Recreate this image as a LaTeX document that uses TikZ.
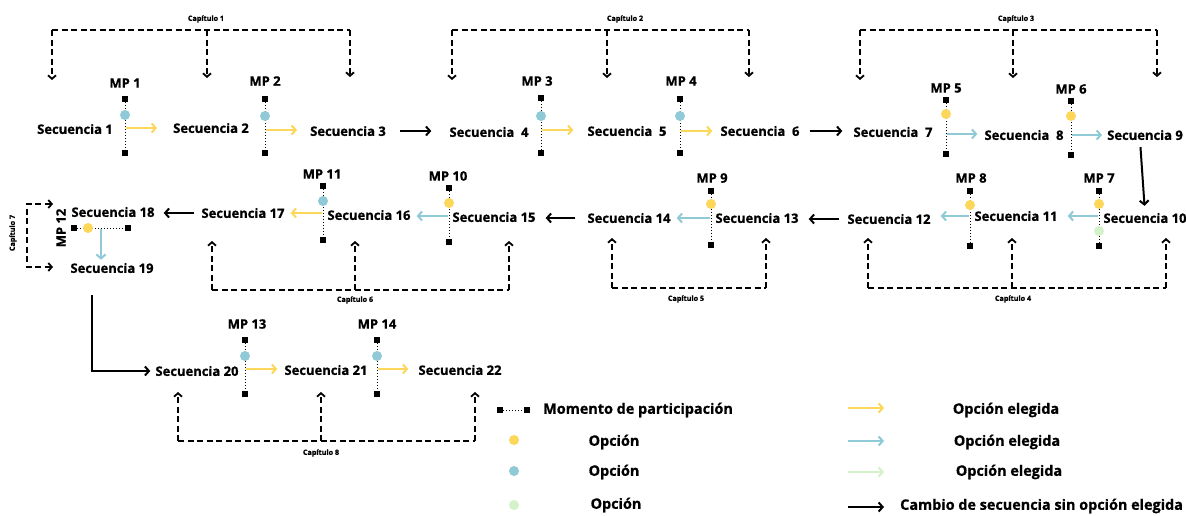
\documentclass[tikz,border=0pt]{standalone}
\usepackage{fontspec}
\setmainfont{Open Sans}[BoldFeatures={FakeBold=0.8}]
\usetikzlibrary{arrows.meta,calc}

\definecolor{ylw}{HTML}{FCD75A}
\definecolor{blu}{HTML}{8FCAD6}
\definecolor{grn}{HTML}{D3F2C9}

\tikzset{
  seq/.style={font=\bfseries\fontsize{13}{15}\selectfont, inner sep=0pt},
  mplabel/.style={font=\bfseries\fontsize{13}{15}\selectfont, inner sep=0pt},
  caplabel/.style={font=\bfseries\fontsize{7.2}{8}\selectfont, inner sep=0pt},
  legtext/.style={font=\bfseries\fontsize{14.4}{16}\selectfont, inner sep=0pt},
  mpline/.style={dotted, line width=1pt},
  endsq/.style={rectangle, fill=black, minimum size=5.5pt, inner sep=0pt},
  opt/.style={circle, inner sep=0pt, minimum size=10pt},
  chapline/.style={dash pattern=on 6pt off 3.5pt, line width=1.8pt},
  chaparrow/.style={chapline, -{Straight Barb[length=3.5pt,width=8pt]}},
  chapboth/.style={chapline, {Straight Barb[length=3.5pt,width=8pt]}-{Straight Barb[length=3.5pt,width=8pt]}},
  pick/.style={line width=2pt, -{Straight Barb[length=4pt,width=9pt]}},
  jump/.style={line width=2pt, black, -{Straight Barb[length=4pt,width=9pt]}},
}

% vertical participation moment: name, x, y top, y bottom
\newcommand\mpvert[4]{%
  \draw[mpline] (#2,#3) -- (#2,#4);
  \node[endsq] (#1t) at (#2,#3) {};
  \node[endsq] (#1b) at (#2,#4) {};
}

\begin{document}
\begin{tikzpicture}[x=1pt,y=-1pt]
\useasboundingbox[fill=white] (0,0) rectangle (1186,515);

% ---------------- sequences ----------------
\node[seq] (s1) at (75,129) {Secuencia 1};
\node[seq] (s2) at (211,128) {Secuencia 2};
\node[seq] (s3) at (348,131) {Secuencia 3};
\node[seq] (s4) at (489,132) {Secuencia\ \ 4};
\node[seq] (s5) at (627,131) {Secuencia\ \ 5};
\node[seq] (s6) at (760,131) {Secuencia\ \ 6};
\node[seq] (s7) at (893,132) {Secuencia\ \ 7};
\node[seq] (s8) at (1024,135) {Secuencia\ \ 8};
\node[seq] (s9) at (1145,135) {Secuencia 9};

\node[seq] (s10) at (1145,218) {Secuencia 10};
\node[seq] (s11) at (1016,216) {Secuencia 11};
\node[seq] (s12) at (889,219) {Secuencia 12};
\node[seq] (s13) at (757,218) {Secuencia 13};
\node[seq] (s14) at (629,218) {Secuencia 14};
\node[seq] (s15) at (494,217) {Secuencia 15};
\node[seq] (s16) at (369,215) {Secuencia 16};
\node[seq] (s17) at (243,213) {Secuencia 17};
\node[seq] (s18) at (113,212) {Secuencia 18};
\node[seq] (s19) at (112,268) {Secuencia 19};

\node[seq] (s20) at (197,371) {Secuencia 20};
\node[seq] (s21) at (326,370) {Secuencia 21};
\node[seq] (s22) at (460,370) {Secuencia 22};

% ---------------- participation moments ----------------
\node[mplabel] (l1) at (125,83) {MP 1};
\mpvert{m1}{125}{99}{153}
\node[opt, fill=blu] (m1c) at (125,115) {};
\coordinate (m1o) at (126,128);
\draw[pick, ylw, shorten >=16pt] (m1o) -- (m1o -| s2.west);

\node[mplabel] (l2) at (265,81) {MP 2};
\mpvert{m2}{265}{99}{153}
\node[opt, fill=blu] (m2c) at (265,116) {};
\coordinate (m2o) at (266,130);
\draw[pick, ylw, shorten >=13pt] (m2o) -- (m2o -| s3.west);

\node[mplabel] (l3) at (537,81) {MP 3};
\mpvert{m3}{541}{98}{153}
\node[opt, fill=blu] (m3c) at (541,116) {};
\coordinate (m3o) at (542,130);
\draw[pick, ylw, shorten >=14pt] (m3o) -- (m3o -| s5.west);

\node[mplabel] (l4) at (681,81) {MP 4};
\mpvert{m4}{680}{99}{153}
\node[opt, fill=blu] (m4c) at (680,116) {};
\coordinate (m4o) at (681,131);
\draw[pick, ylw, shorten >=8pt] (m4o) -- (m4o -| s6.west);

\node[mplabel] (l5) at (946,88) {MP 5};
\mpvert{m5}{946}{100}{154}
\node[opt, fill=ylw] (m5c) at (946,114) {};
\coordinate (m5o) at (947,134);
\draw[pick, blu, shorten >=7pt] (m5o) -- (m5o -| s8.west);

\node[mplabel] (l6) at (1071,89) {MP 6};
\mpvert{m6}{1071}{101}{155}
\node[opt, fill=ylw] (m6c) at (1071,116) {};
\coordinate (m6o) at (1072,135);
\draw[pick, blu, shorten >=5pt] (m6o) -- (m6o -| s9.west);

\node[mplabel] (l7) at (1099,178) {MP 7};
\mpvert{m7}{1099}{191}{246}
\node[opt, fill=ylw] (m7c) at (1099,204) {};
\node[opt, fill=grn] (m7g) at (1099,231) {};
\coordinate (m7o) at (1098,216);
\draw[pick, blu, shorten >=10pt] (m7o) -- (m7o -| s11.east);

\node[mplabel] (l8) at (971,178) {MP 8};
\mpvert{m8}{970}{191}{246}
\node[opt, fill=ylw] (m8c) at (970,205) {};
\coordinate (m8o) at (969,216);
\draw[pick, blu, shorten >=10pt] (m8o) -- (m8o -| s12.east);

\node[mplabel] (l9) at (712,178) {MP 9};
\mpvert{m9}{711}{191}{245}
\node[opt, fill=ylw] (m9c) at (711,204) {};
\coordinate (m9o) at (710,218);
\draw[pick, blu, shorten >=6pt] (m9o) -- (m9o -| s14.east);

\node[mplabel] (l10) at (448,176) {MP 10};
\mpvert{m10}{449}{188}{242}
\node[opt, fill=ylw] (m10c) at (449,203) {};
\coordinate (m10o) at (448,216);
\draw[pick, blu, shorten >=6pt] (m10o) -- (m10o -| s16.east);

\node[mplabel] (l11) at (322,174) {MP 11};
\mpvert{m11}{323}{186}{240}
\node[opt, fill=blu] (m11c) at (323,201) {};
\coordinate (m11o) at (322,213);
\draw[pick, ylw, shorten >=6pt] (m11o) -- (m11o -| s17.east);

% horizontal moment between sequences 18 and 19
\node[mplabel, rotate=90] (l12) at (61,228) {MP 12};
\draw[mpline] (74,228) -- (128,228);
\node[endsq] (m12l) at (74,228) {};
\node[endsq] (m12r) at (128,228) {};
\node[opt, fill=ylw] (m12c) at (88,228) {};
\coordinate (m12o) at (101,229);
\draw[pick, blu, shorten >=3pt] (m12o) -- (m12o |- s19.north);

\node[mplabel] (l13) at (247,324) {MP 13};
\mpvert{m13}{245}{340}{394}
\node[opt, fill=blu] (m13c) at (245,356) {};
\coordinate (m13o) at (246,369);
\draw[pick, ylw, shorten >=7pt] (m13o) -- (m13o -| s21.west);

\node[mplabel] (l14) at (377,324) {MP 14};
\mpvert{m14}{377}{340}{394}
\node[opt, fill=blu] (m14c) at (377,356) {};
\coordinate (m14o) at (378,369);
\draw[pick, ylw, shorten >=10pt] (m14o) -- (m14o -| s22.west);

% ---------------- sequence changes without a choice ----------------
\draw[jump, shorten <=14pt, shorten >=18pt] (s3.east) -- (s3.east -| s4.west);
\draw[jump, shorten <=10pt, shorten >=11pt] (s6.east) -- (s6.east -| s7.west);
\draw[jump, shorten <=7pt, shorten >=7pt] ([xshift=-5pt]s9.south) -- (s10.north);
\draw[jump, shorten <=8pt, shorten >=10pt] (s12.west) -- (s12.west -| s13.east);
\draw[jump, shorten <=12pt, shorten >=10pt] (s14.west) -- (s14.west -| s15.east);
\draw[jump, shorten <=7pt, shorten >=9pt] (s17.west) -- (s17.west -| s18.east);
\draw[jump, shorten <=22pt, shorten >=5pt] ([xshift=-20pt]s19.south) |- (s20.west);

% ---------------- chapters ----------------
% Capítulo 1
\node[caplabel] (cap1) at (206,19) {Capítulo 1};
\coordinate (c1a) at (52,30);  \coordinate (c1b) at (207,30);  \coordinate (c1c) at (350,30);
\coordinate (t1a) at (52,80);  \coordinate (t1b) at (207,78);  \coordinate (t1c) at (350,77);
\draw[chapline] (c1a) -- (c1c);
\draw[chaparrow] (c1a) -- (t1a);
\draw[chaparrow] (c1b) -- (t1b);
\draw[chaparrow] (c1c) -- (t1c);

% Capítulo 2
\node[caplabel] (cap2) at (625,19) {Capítulo 2};
\coordinate (c2a) at (452,30);  \coordinate (c2b) at (607,30);  \coordinate (c2c) at (749,30);
\coordinate (t2a) at (452,80);  \coordinate (t2b) at (607,78);  \coordinate (t2c) at (749,77);
\draw[chapline] (c2a) -- (c2c);
\draw[chaparrow] (c2a) -- (t2a);
\draw[chaparrow] (c2b) -- (t2b);
\draw[chaparrow] (c2c) -- (t2c);

% Capítulo 3
\node[caplabel] (cap3) at (1016,19) {Capítulo 3};
\coordinate (c3a) at (860,30);  \coordinate (c3b) at (1013,30);  \coordinate (c3c) at (1157,30);
\coordinate (t3a) at (860,80);  \coordinate (t3b) at (1013,78);  \coordinate (t3c) at (1157,77);
\draw[chapline] (c3a) -- (c3c);
\draw[chaparrow] (c3a) -- (t3a);
\draw[chaparrow] (c3b) -- (t3b);
\draw[chaparrow] (c3c) -- (t3c);

% Capítulo 4
\node[caplabel] (cap4) at (1013,299) {Capítulo 4};
\coordinate (c4a) at (868,288);  \coordinate (c4b) at (1012,288);  \coordinate (c4c) at (1166,288);
\coordinate (t4a) at (868,238);  \coordinate (t4b) at (1012,238);  \coordinate (t4c) at (1166,238);
\draw[chapline] (c4a) -- (c4c);
\draw[chaparrow] (c4a) -- (t4a);
\draw[chaparrow] (c4b) -- (t4b);
\draw[chaparrow] (c4c) -- (t4c);

% Capítulo 5
\node[caplabel] (cap5) at (686,299) {Capítulo 5};
\coordinate (c5a) at (612,288);  \coordinate (c5c) at (766,288);
\coordinate (t5a) at (612,238);  \coordinate (t5c) at (766,238);
\draw[chapline] (c5a) -- (c5c);
\draw[chaparrow] (c5a) -- (t5a);
\draw[chaparrow] (c5c) -- (t5c);

% Capítulo 6
\node[caplabel] (cap6) at (355,300) {Capítulo 6};
\coordinate (c6a) at (212,290);  \coordinate (c6b) at (355,290);  \coordinate (c6c) at (509,290);
\coordinate (t6a) at (212,241);  \coordinate (t6b) at (355,241);  \coordinate (t6c) at (509,241);
\draw[chapline] (c6a) -- (c6c);
\draw[chaparrow] (c6a) -- (t6a);
\draw[chaparrow] (c6b) -- (t6b);
\draw[chaparrow] (c6c) -- (t6c);

% Capítulo 7
\node[caplabel, rotate=90] (cap7) at (13,233) {Capítulo 7};
\coordinate (c7a) at (27,204);  \coordinate (c7b) at (27,267);
\coordinate (t7a) at (53,204);  \coordinate (t7b) at (53,267);
\draw[chapboth] (t7a) -- (c7a) -- (c7b) -- (t7b);

% Capítulo 8
\node[caplabel] (cap8) at (321,453) {Capítulo 8};
\coordinate (c8a) at (178,441);  \coordinate (c8b) at (321,441);  \coordinate (c8c) at (475,441);
\coordinate (t8a) at (178,392);  \coordinate (t8b) at (321,392);  \coordinate (t8c) at (475,392);
\draw[chapline] (c8a) -- (c8c);
\draw[chaparrow] (c8a) -- (t8a);
\draw[chaparrow] (c8b) -- (t8b);
\draw[chaparrow] (c8c) -- (t8c);

% ---------------- legend ----------------
\draw[mpline] (500,410) -- (527,410);
\node[endsq] (k0a) at (500,410) {};
\node[endsq] (k0b) at (527,410) {};
\node[legtext, anchor=west] (k0t) at (543,410) {Momento de participación};

\node[opt, fill=ylw] (k1) at (514,440) {};
\node[legtext] (k1t) at (614,442) {Opción};
\node[opt, fill=blu] (k2) at (514,471) {};
\node[legtext] (k2t) at (614,472) {Opción};
\node[opt, fill=grn] (k3) at (514,505) {};
\node[legtext] (k3t) at (616,505) {Opción};

\coordinate (a1) at (848,408); \coordinate (b1) at (884,408);
\coordinate (a2) at (848,441); \coordinate (b2) at (884,441);
\coordinate (a3) at (848,472); \coordinate (b3) at (884,472);
\coordinate (a4) at (848,507); \coordinate (b4) at (884,507);
\draw[pick, ylw] (a1) -- (b1);
\draw[pick, blu] (a2) -- (b2);
\draw[pick, grn] (a3) -- (b3);
\draw[jump] (a4) -- (b4);
\node[legtext] (e1) at (1006,410) {Opción elegida};
\node[legtext] (e2) at (1007,442) {Opción elegida};
\node[legtext] (e3) at (1009,472) {Opción elegida};
\node[legtext, anchor=west] (e4) at (900,506) {Cambio de secuencia sin opción elegida};
\end{tikzpicture}
\end{document}
